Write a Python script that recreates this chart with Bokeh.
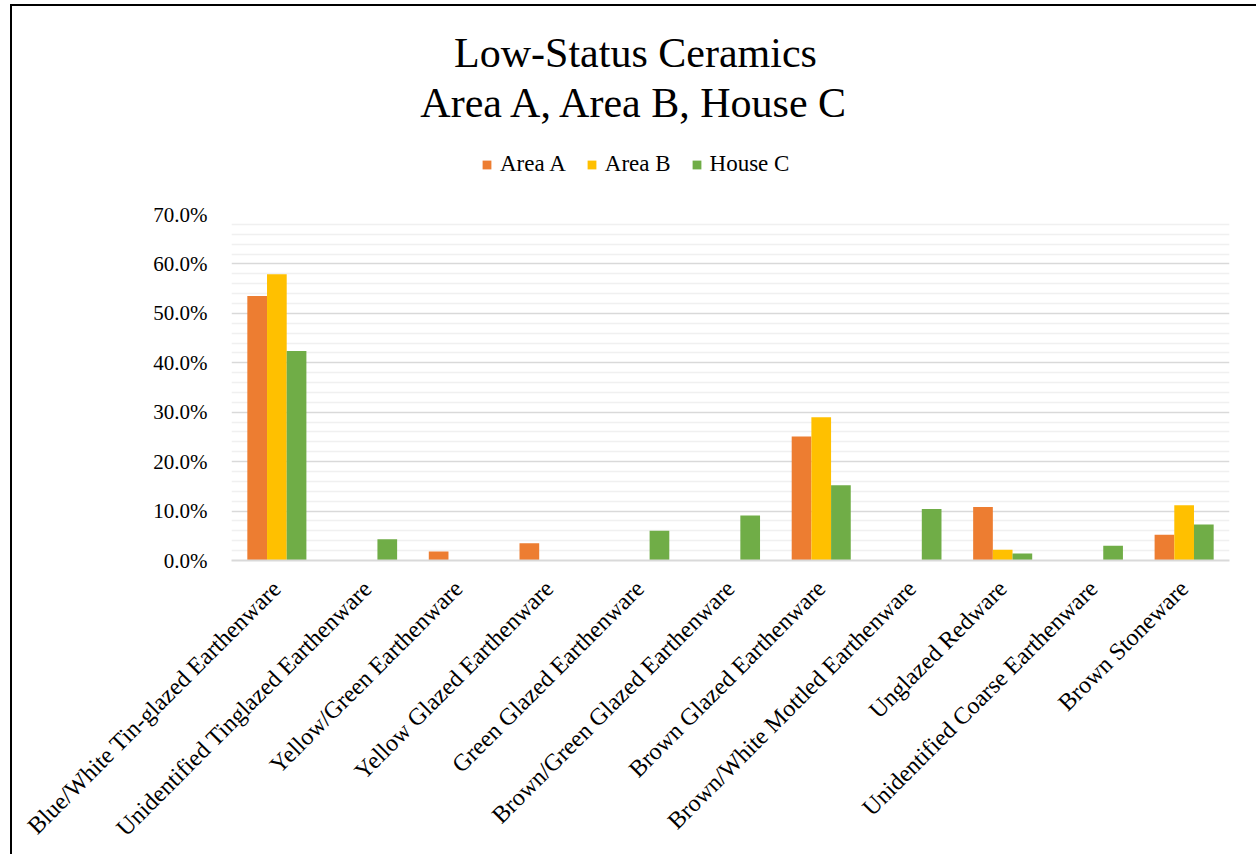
import math
from bokeh.plotting import figure
from bokeh.layouts import column
from bokeh.models import (FactorRange, Range1d, FixedTicker, NumeralTickFormatter,
                          Legend, LegendItem, Label, ColumnDataSource)
from bokeh.transform import dodge
from bokeh.embed import file_html
from bokeh.resources import INLINE

# ---- data -------------------------------------------------------------
categories = [
    "Blue/White Tin-glazed Earthenware",
    "Unidentified Tinglazed Earthenware",
    "Yellow/Green Earthenware",
    "Yellow Glazed Earthenware",
    "Green Glazed Earthenware",
    "Brown/Green Glazed Earthenware",
    "Brown Glazed Earthenware",
    "Brown/White Mottled Earthenware",
    "Unglazed Redware",
    "Unidentified Coarse Earthenware",
    "Brown Stoneware",
]
area_a = [0.535, 0.0, 0.018, 0.035, 0.0, 0.0, 0.251, 0.0, 0.108, 0.0, 0.052]
area_b = [0.579, 0.0, 0.0, 0.0, 0.0, 0.0, 0.290, 0.0, 0.022, 0.0, 0.112]
house_c = [0.424, 0.043, 0.0, 0.0, 0.060, 0.091, 0.152, 0.104, 0.014, 0.030, 0.073]
series_names = ["Area A", "Area B", "House C"]
title_lines = ["Low-Status Ceramics", "Area A, Area B, House C"]
y_ticks = [0.0, 0.1, 0.2, 0.3, 0.4, 0.5, 0.6, 0.7]
y_minor = [0.02, 0.04, 0.06, 0.08, 0.12, 0.14, 0.16, 0.18, 0.22, 0.24, 0.26, 0.28,
           0.32, 0.34, 0.36, 0.38, 0.42, 0.44, 0.46, 0.48, 0.52, 0.54, 0.56, 0.58,
           0.62, 0.64, 0.66, 0.68]

colors = ["#ED7D31", "#FFC000", "#70AD47"]
FONT = "Liberation Serif"
W = 1244
HDR_H = 188
MAIN_H = 660
BORDER_L, BORDER_R = 219, 27
FRAME_W = W - BORDER_L - BORDER_R

# ---- header (title + legend); its frame is aligned with the main frame --
hdr = figure(width=W, height=HDR_H, x_range=Range1d(0, FRAME_W), y_range=Range1d(HDR_H, 0),
             output_backend="svg", toolbar_location=None,
             min_border_left=BORDER_L, min_border_right=BORDER_R,
             min_border_top=0, min_border_bottom=0,
             x_axis_type=None, y_axis_type=None)
hdr.outline_line_color = None
hdr.grid.visible = False

for txt, yy in zip(title_lines, [46, 96]):
    hdr.add_layout(Label(x=404, y=yy, text=txt, text_align="center", text_baseline="middle",
                         text_font=FONT, text_font_size="42px", text_color="#000000"))

# zero-size renderers that only feed the legend swatches
dummy = [hdr.vbar(x=[0], top=[0], bottom=[0], width=0, fill_color=c, line_color=None)
         for c in colors]
legend = Legend(
    items=[LegendItem(label=n, renderers=[r]) for n, r in zip(series_names, dummy)],
    orientation="horizontal", location=(250, 17),
    glyph_width=11, glyph_height=11, label_standoff=8, spacing=20,
    padding=0, margin=0, border_line_color=None, background_fill_alpha=0,
    label_text_font=FONT, label_text_font_size="23px", label_text_color="#000000",
)
hdr.add_layout(legend, "center")

# ---- main chart --------------------------------------------------------
source = ColumnDataSource(data=dict(cat=categories, a=area_a, b=area_b, c=house_c))

p = figure(
    x_range=FactorRange(*categories, range_padding=0),
    y_range=Range1d(0, 0.7),
    width=W, height=MAIN_H,
    output_backend="svg", toolbar_location=None,
    min_border_left=BORDER_L, min_border_right=BORDER_R,
    min_border_top=20, min_border_bottom=294,
)
p.outline_line_color = None

bw = 0.217
for off, col, color in zip([-bw, 0.0, bw], ["a", "b", "c"], colors):
    p.vbar(x=dodge("cat", off, range=p.x_range), top=col, width=bw,
           source=source, fill_color=color, line_color=None)

p.xgrid.grid_line_color = None
p.ygrid.grid_line_color = "#d9d9d9"
p.ygrid.grid_line_width = 1.5
p.ygrid.minor_grid_line_color = "#f0f0f0"
p.ygrid.minor_grid_line_width = 1.5

p.yaxis.ticker = FixedTicker(ticks=y_ticks, minor_ticks=y_minor)
p.yaxis.formatter = NumeralTickFormatter(format="0.0%")
p.yaxis.axis_line_color = None
p.yaxis.major_tick_line_color = None
p.yaxis.minor_tick_line_color = None
p.yaxis.major_label_standoff = 18
p.yaxis.major_label_text_font = FONT
p.yaxis.major_label_text_font_size = "21px"
p.yaxis.major_label_text_color = "#000000"

p.xaxis.axis_line_color = "#d9d9d9"
p.xaxis.axis_line_width = 2
p.xaxis.major_tick_line_color = None
p.xaxis.minor_tick_line_color = None
p.xaxis.major_label_orientation = math.pi / 4
p.xaxis.major_label_standoff = 18
p.xaxis.major_label_text_font = FONT
p.xaxis.major_label_text_font_size = "24px"
p.xaxis.major_label_text_color = "#000000"

layout = column(hdr, p, spacing=0,
                styles={"margin-left": "10px", "margin-top": "4px",
                        "border-left": "2px solid black", "border-top": "2px solid black"})

open("out.html", "w").write(file_html(layout, INLINE))
